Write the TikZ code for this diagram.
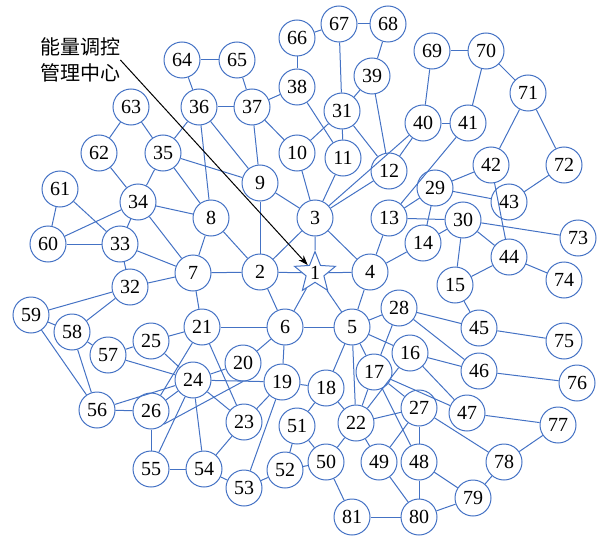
\documentclass[tikz,border=0pt]{standalone}
\usepackage{fontspec}
\setmainfont{Liberation Serif}
\newfontfamily\cjkfont{Noto Sans CJK SC}
\usetikzlibrary{shapes.geometric,arrows.meta}
\definecolor{gridblue}{RGB}{68,114,196}
\begin{document}
\begin{tikzpicture}[x=0.5pt, y=-0.5pt,
  bus/.style={draw=gridblue, line width=0.5pt, circle, minimum size=18pt, inner sep=0pt, font=\fontsize{10}{12}\selectfont},
  hub/.style={bus, star, star points=5, star point ratio=2.3},
  feeder/.style={draw=gridblue, line width=0.5pt}]
\useasboundingbox (0,0) rectangle (599,535);
% energy control centre
\node[font=\cjkfont\fontsize{10}{13}\selectfont, align=left, inner sep=0pt] (ctr) at (80,60) {能量调控\\管理中心};
% buses
\node[hub] (1) at (315,273) {1};
\node[bus] (2) at (260,272) {2};   \node[bus] (3) at (315,218) {3};   \node[bus] (4) at (370,272) {4};
\node[bus] (5) at (352,327) {5};   \node[bus] (6) at (285,327) {6};   \node[bus] (7) at (193,273) {7};
\node[bus] (8) at (211,218) {8};   \node[bus] (9) at (260,183) {9};   \node[bus] (10) at (297,153) {10};
\node[bus] (11) at (343,158) {11}; \node[bus] (12) at (389,171) {12}; \node[bus] (13) at (389,218) {13};
\node[bus] (14) at (423,243) {14}; \node[bus] (15) at (455,285) {15}; \node[bus] (16) at (410,353) {16};
\node[bus] (17) at (374,372) {17}; \node[bus] (18) at (326,388) {18}; \node[bus] (19) at (282,382) {19};
\node[bus] (20) at (243,363) {20}; \node[bus] (21) at (202,327) {21}; \node[bus] (22) at (356,423) {22};
\node[bus] (23) at (244,422) {23}; \node[bus] (24) at (193,380) {24}; \node[bus] (25) at (151,341) {25};
\node[bus] (26) at (151,411) {26}; \node[bus] (27) at (419,408) {27}; \node[bus] (28) at (399,308) {28};
\node[bus] (29) at (435,188) {29}; \node[bus] (30) at (463,220) {30}; \node[bus] (31) at (342,111) {31};
\node[bus] (32) at (130,287) {32}; \node[bus] (33) at (120,244) {33}; \node[bus] (34) at (138,202) {34};
\node[bus] (35) at (163,153) {35}; \node[bus] (36) at (199,107) {36}; \node[bus] (37) at (252,107) {37};
\node[bus] (38) at (297,87) {38};  \node[bus] (39) at (372,76) {39};  \node[bus] (40) at (423,123) {40};
\node[bus] (41) at (468,123) {41}; \node[bus] (42) at (491,165) {42}; \node[bus] (43) at (509,202) {43};
\node[bus] (44) at (509,257) {44}; \node[bus] (45) at (479,328) {45}; \node[bus] (46) at (479,371) {46};
\node[bus] (47) at (467,413) {47}; \node[bus] (48) at (419,462) {48}; \node[bus] (49) at (379,462) {49};
\node[bus] (50) at (326,462) {50}; \node[bus] (51) at (297,426) {51}; \node[bus] (52) at (285,470) {52};
\node[bus] (53) at (244,488) {53}; \node[bus] (54) at (204,469) {54}; \node[bus] (55) at (151,469) {55};
\node[bus] (56) at (97,410) {56};  \node[bus] (57) at (108,355) {57}; \node[bus] (58) at (72,332) {58};
\node[bus] (59) at (31,315) {59};  \node[bus] (60) at (48,244) {60};  \node[bus] (61) at (60,189) {61};
\node[bus] (62) at (99,153) {62};  \node[bus] (63) at (131,107) {63}; \node[bus] (64) at (182,60) {64};
\node[bus] (65) at (237,60) {65};  \node[bus] (66) at (297,38) {66};  \node[bus] (67) at (339,24) {67};
\node[bus] (68) at (388,24) {68};  \node[bus] (69) at (432,51) {69};  \node[bus] (70) at (486,51) {70};
\node[bus] (71) at (528,93) {71};  \node[bus] (72) at (564,165) {72}; \node[bus] (73) at (578,238) {73};
\node[bus] (74) at (564,280) {74}; \node[bus] (75) at (564,341) {75}; \node[bus] (76) at (577,383) {76};
\node[bus] (77) at (558,425) {77}; \node[bus] (78) at (504,462) {78}; \node[bus] (79) at (473,498) {79};
\node[bus] (80) at (419,517) {80}; \node[bus] (81) at (352,517) {81};
% lines
\foreach \a/\b in {64/36, 64/65, 63/62, 63/35, 36/35, 62/34, 35/34, 35/9, 35/8, 36/9, 36/8, 36/37,
    37/65, 37/38, 37/10, 37/9, 38/66, 38/11, 67/66, 67/68, 67/31, 68/39, 39/31, 39/12, 31/10, 31/11,
    31/12, 10/3, 11/3, 12/3, 40/3, 40/12, 40/69, 40/41, 41/70, 41/13, 70/69, 70/71, 71/42, 71/72,
    72/43, 42/29, 42/44, 29/43, 29/13, 29/14, 13/30, 13/4, 14/30, 14/4, 30/73, 30/44, 30/15, 15/44,
    15/45, 44/74, 45/75, 45/28, 28/46, 28/5, 28/17, 16/46, 16/47, 16/22, 5/16, 5/17, 5/22, 5/18,
    5/4, 5/6, 5/1, 17/22, 17/27, 17/47, 17/48, 27/22, 27/49, 27/48, 27/78, 48/80, 48/79, 49/80,
    80/81, 80/79, 79/78, 78/77, 77/47, 46/76, 22/18, 22/50, 22/49, 50/81, 50/51, 50/52, 51/52,
    18/51, 18/19, 19/6, 19/23, 19/53, 19/24, 20/6, 20/24, 21/6, 21/7, 21/25, 21/26, 21/23,
    25/24, 25/57, 24/57, 24/56, 24/26, 24/55, 24/54, 24/23, 26/56, 26/55, 55/54, 54/53, 54/23,
    53/52, 58/59, 58/32, 58/56, 59/32, 59/56, 57/58, 32/7, 32/33, 33/61, 33/60, 33/34, 33/7,
    60/61, 60/34, 34/7, 34/8, 8/7, 8/2, 7/2, 2/9, 2/3, 2/1, 2/6, 6/1, 3/1, 3/9, 3/4, 1/4}
  \draw[feeder] (\a) -- (\b);
\draw[feeder] (20.south) -- (26.south east);
\draw[-{Stealth[length=5pt,width=3.5pt]}, line width=0.5pt] (ctr.east) -- (1);
\end{tikzpicture}
\end{document}
